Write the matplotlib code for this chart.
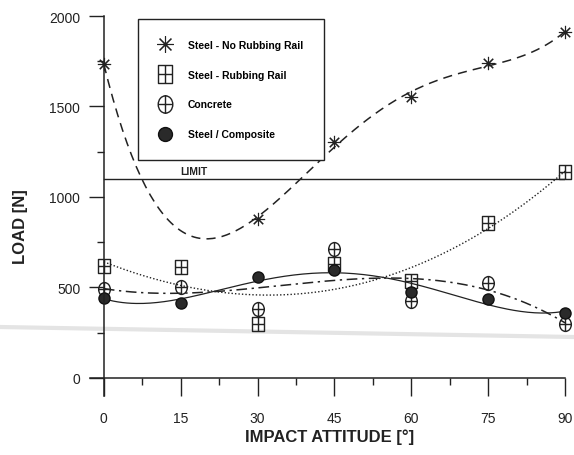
import numpy as np
import matplotlib
matplotlib.use("Agg")
import matplotlib.pyplot as plt
from matplotlib.lines import Line2D
from matplotlib.path import Path
from matplotlib.ticker import MultipleLocator

plt.rcParams['font.family'] = ['Liberation Sans Narrow', 'Liberation Sans', 'DejaVu Sans']

# angles [deg]
angles = [0, 15, 30, 45, 60, 75, 90]
angles_no_rail = [0, 30, 45, 60, 75, 90]

# loads [N]
steel_no_rail = [1734, 880, 1302, 1552, 1740, 1911]
steel_rail = [617, 611, 296, 628, 536, 855, 1136]
concrete = [490, 505, 379, 711, 425, 527, 300]
composite = [444, 412, 560, 596, 475, 438, 361]
limit = 1100

ink = '#222222'

# boxed cross and circled cross marker shapes
cross = Path([(-0.42, 0), (0.42, 0), (0, -0.5), (0, 0.5)],
             [Path.MOVETO, Path.LINETO, Path.MOVETO, Path.LINETO])
box = Path([(-0.42, -0.5), (0.42, -0.5), (0.42, 0.5), (-0.42, 0.5), (-0.42, -0.5)],
           [Path.MOVETO, Path.LINETO, Path.LINETO, Path.LINETO, Path.CLOSEPOLY])
circ = Path.unit_circle()
circ = Path(circ.vertices * [0.42, 0.5], circ.codes)
box_cross = Path.make_compound_path(box, cross)
circ_cross = Path.make_compound_path(circ, cross)

fig = plt.figure(figsize=(5.74, 4.56), dpi=100)
ax = fig.add_axes([90 / 574, 1 - 397 / 456, 475 / 574, 380 / 456])
ax.set_facecolor('none')

# scanner band
fig.add_artist(Line2D([0, 1], [1 - 328 / 456, 1 - 338 / 456], transform=fig.transFigure,
                      color='#e4e4e4', lw=3, zorder=-1))

xs = np.linspace(0, 90, 200)


def trend(x, y, deg):
    c = np.polyfit(x, y, deg)
    return np.polyval(c, xs)


ax.plot(xs, trend(angles_no_rail, steel_no_rail, 4), ls=(0, (6, 4)), color=ink, lw=1.1)
ax.plot(xs, trend(angles, steel_rail, 3), ls=(0, (1, 1.5)), color=ink, lw=1.0)
ax.plot(xs, trend(angles, concrete, 3), ls=(0, (7, 3, 1.5, 3)), color=ink, lw=1.1)
ax.plot(xs, trend(angles, composite, 4), ls='-', color=ink, lw=0.9)

ax.axhline(limit, xmin=(0 - (-2.7)) / 92.7, color=ink, lw=1.0)
ax.text(15, limit + 25, 'LIMIT', fontsize=7.5, fontweight='bold', color=ink)

ax.plot(angles_no_rail, steel_no_rail, ls='none', marker=(8, 2, 0), ms=9.5, mew=0.8,
        mec=ink, label='Steel - No Rubbing Rail', clip_on=False)
ax.plot(angles, steel_rail, ls='none', marker=box_cross, ms=10, mew=1.0, mec=ink,
        mfc='none', label='Steel - Rubbing Rail', clip_on=False)
ax.plot(angles, concrete, ls='none', marker=circ_cross, ms=10, mew=1.0, mec=ink,
        mfc='none', label='Concrete', clip_on=False)
ax.plot(angles, composite, ls='none', marker='o', ms=8, color='#2a2a2a',
        mec='#111111', label='Steel / Composite', clip_on=False)

ax.set_xlim(-2.7, 90)
ax.set_ylim(-100, 2000)
ax.spines['left'].set_position(('data', 0))
ax.spines['bottom'].set_position(('data', 0))
ax.spines['right'].set_visible(False)
ax.spines['top'].set_visible(False)
for s in ('left', 'bottom'):
    ax.spines[s].set_color(ink)
    ax.spines[s].set_linewidth(1.1)

ax.xaxis.set_major_locator(MultipleLocator(15))
ax.xaxis.set_minor_locator(MultipleLocator(7.5))
ax.yaxis.set_major_locator(MultipleLocator(500))
ax.yaxis.set_minor_locator(MultipleLocator(250))
ax.tick_params(axis='x', which='major', direction='out', length=13, width=1, color=ink,
               pad=11, labelsize=10, labelcolor=ink)
ax.tick_params(axis='x', which='minor', direction='out', length=5, width=1, color=ink)
ax.tick_params(axis='y', which='major', direction='out', length=11, width=1, color=ink,
               pad=6, labelsize=10, labelcolor=ink)
ax.tick_params(axis='y', which='minor', direction='out', length=5, width=1, color=ink)

fig.text(0.036, 1 - 227 / 456, 'LOAD [N]', rotation=90, ha='center', va='center',
         fontsize=12, fontweight='bold', color=ink)
fig.text(330 / 574, 1 - 437 / 456, 'IMPACT ATTITUDE [°]', ha='center', va='center',
         fontsize=12, fontweight='bold', color=ink)

leg = ax.legend(loc='upper left', bbox_to_anchor=(0.101, 0.992), borderaxespad=0,
                prop={'weight': 'bold', 'size': 7.5}, labelspacing=1.9, markerscale=1.25,
                handlelength=1.2, handletextpad=1.6, borderpad=2.0, fancybox=False,
                frameon=True, edgecolor=ink, framealpha=1)
leg.get_frame().set_linewidth(1.0)

fig.savefig('out.png', dpi=100)
